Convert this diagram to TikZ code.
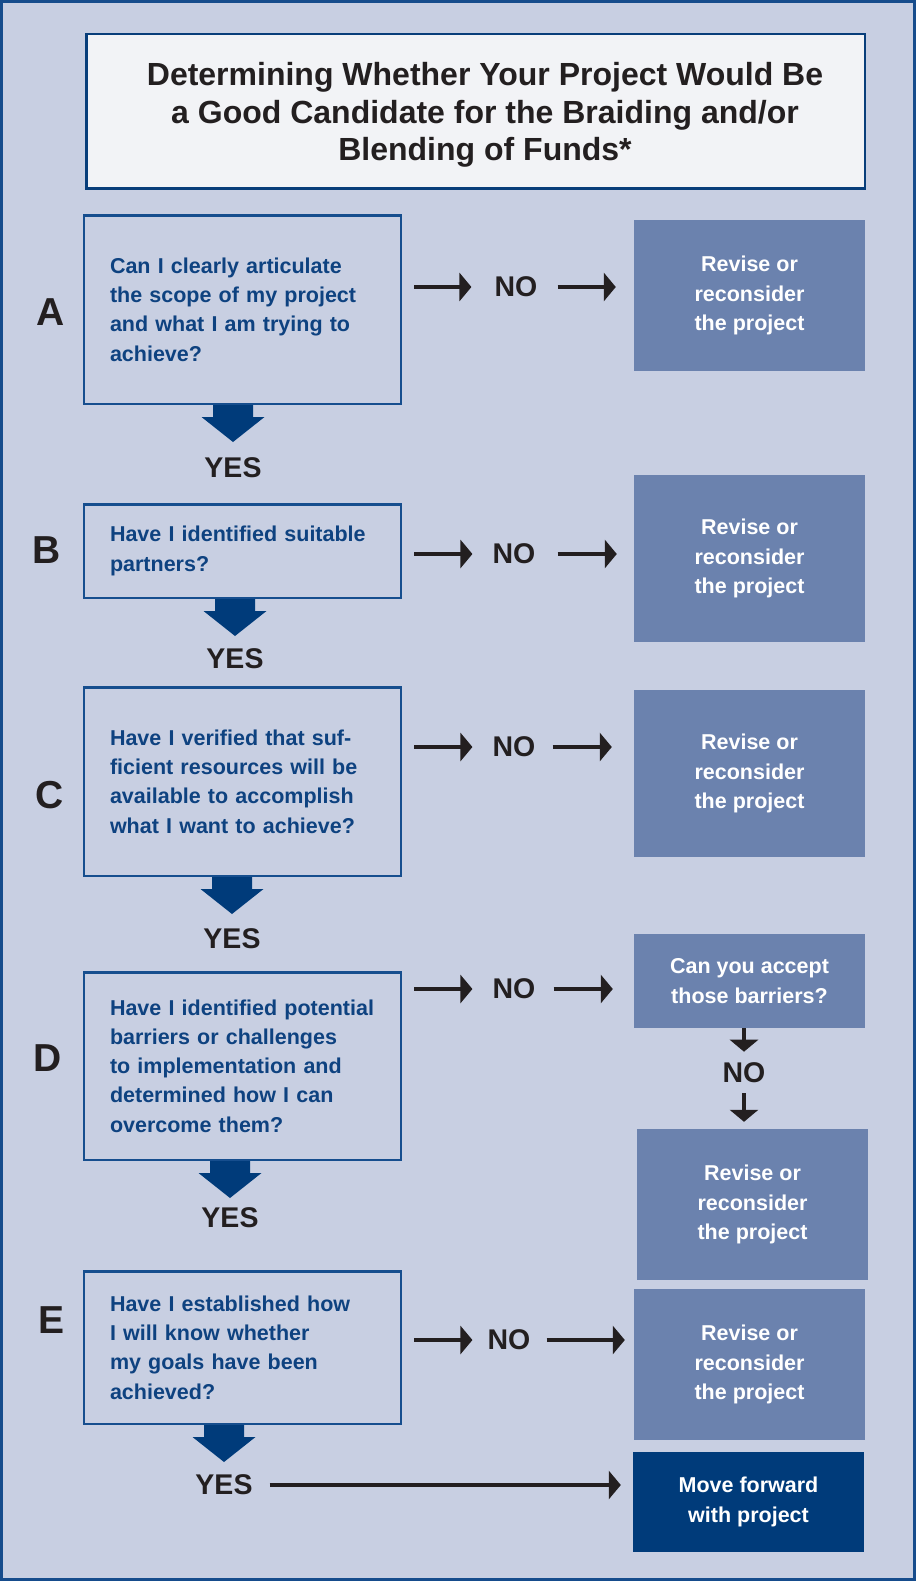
\documentclass[tikz,border=0pt]{standalone}
\usepackage{fontspec}
\setmainfont{Liberation Sans}
\usetikzlibrary{arrows.meta,calc}
\definecolor{bgc}{RGB}{200,207,226}
\definecolor{framec}{RGB}{22,76,140}
\definecolor{titlefill}{RGB}{242,243,246}
\definecolor{titleborder}{RGB}{8,62,122}
\definecolor{qborder}{RGB}{22,78,142}
\definecolor{qtext}{RGB}{14,66,128}
\definecolor{revfill}{RGB}{107,130,174}
\definecolor{navyc}{RGB}{0,59,122}
\definecolor{inkc}{RGB}{35,31,32}
\newcommand\qline[1]{\mbox{#1}}
\newcommand\fatarrow[1]{\fill[fat] ($(#1)+(-20,0)$) -- ++(0,12) -- ++(-11.5,0) -- ++(31.5,25) -- ++(31.5,-25) -- ++(-11.5,0) -- ++(0,-12) -- cycle;}
\tikzset{
 qbox/.style={draw=qborder, line width=2.5pt, text=qtext, text width=265pt, inner xsep=26pt, inner ysep=0pt, align=left, minimum width=317pt, font=\fontsize{21.5}{29.3}\selectfont\bfseries},
 rbox/.style={fill=revfill, text=white, align=center, minimum width=231pt, inner sep=0pt, font=\fontsize{21.5}{29.3}\selectfont\bfseries},
 mvbox/.style={rbox, fill=navyc},
 letter/.style={text=inkc, inner sep=0pt, font=\fontsize{39}{39}\selectfont\bfseries},
 yn/.style={text=inkc, inner sep=0pt, font=\fontsize{28.5}{28.5}\selectfont\bfseries},
 arr/.style={draw=inkc, line width=3.5pt, -{Triangle[length=12pt,width=28pt]}},
 fat/.style={fill=navyc},
}
\begin{document}
\begin{tikzpicture}[x=1pt,y=-1pt]
\fill[bgc] (0,0) rectangle (916,1581);
\useasboundingbox (0,0) rectangle (916,1581);
\draw[framec, line width=2.5pt] (1.5,1.5) rectangle (914.5,1579.5);

% title
\node[draw=titleborder, line width=2.5pt, fill=titlefill, minimum width=778.5pt, minimum height=154.5pt, inner sep=0pt] (titlebox) at (475.5,111.5) {};
\node[text=inkc, align=center, inner sep=0pt, font=\fontsize{32}{37.5}\selectfont\bfseries] (title) at (485,115) {Determining Whether Your Project Would Be\\a Good Candidate for the Braiding and/or\\Blending of Funds*};

% question boxes
\node[qbox, minimum height=188.5pt] (qA) at (242.5,309.5) {\qline{Can I clearly articulate}\\\qline{the scope of my project}\\\qline{and what I am trying to}\\\qline{achieve?}};
\node[qbox, minimum height=93.5pt] (qB) at (242.5,551) {\qline{Have I identified suitable}\\\qline{partners?}};
\node[qbox, minimum height=188.5pt] (qC) at (242.5,781.5) {\qline{Have I verified that suf-}\\\qline{ficient resources will be}\\\qline{available to accomplish}\\\qline{what I want to achieve?}};
\node[qbox, minimum height=187.5pt] (qD) at (242.5,1066) {\qline{Have I identified potential}\\\qline{barriers or challenges}\\\qline{to implementation and}\\\qline{determined how I can}\\\qline{overcome them?}};
\node[qbox, minimum height=152.5pt] (qE) at (242.5,1347.5) {\qline{Have I established how}\\\qline{I will know whether}\\\qline{my goals have been}\\\qline{achieved?}};

% letters
\node[letter] (laA) at (51,312) {A};
\node[letter] (laB) at (47,550) {B};
\node[letter] (laC) at (50,795) {C};
\node[letter] (laD) at (48,1058) {D};
\node[letter] (laE) at (52,1320) {E};

% right boxes
\node[rbox, minimum height=151pt] (rA) at (749.5,295.5) {Revise or\\reconsider\\the project};
\node[rbox, minimum height=167pt] (rB) at (749.5,558.5) {Revise or\\reconsider\\the project};
\node[rbox, minimum height=167pt] (rC) at (749.5,773.5) {Revise or\\reconsider\\the project};
\node[rbox, minimum height=94pt] (accD) at (749.5,981) {Can you accept\\those barriers?};
\node[rbox, minimum height=151pt] (rD) at (752.5,1204.5) {Revise or\\reconsider\\the project};
\node[rbox, minimum height=151pt] (rE) at (749.5,1364.5) {Revise or\\reconsider\\the project};
\node[mvbox, minimum height=100pt] (mv) at (748.5,1502) {Move forward\\with project};

% NO labels
\node[yn] (noA) at (516,287) {NO};
\node[yn] (noB) at (514,554) {NO};
\node[yn] (noC) at (514,747) {NO};
\node[yn] (noD) at (514,989) {NO};
\node[yn] (noE) at (509,1340) {NO};
\node[yn] (noDs) at (744,1073) {NO};

% YES labels
\node[yn] (yesA) at (233,468) {YES};
\node[yn] (yesB) at (235,659) {YES};
\node[yn] (yesC) at (232,939) {YES};
\node[yn] (yesD) at (230,1218) {YES};
\node[yn] (yesE) at (224,1485) {YES};

% fat down arrows
\fatarrow{qA.south -| yesA}
\fatarrow{qB.south -| yesB}
\fatarrow{qC.south -| yesC}
\fatarrow{qD.south -| yesD}
\fatarrow{qE.south -| yesE}

% horizontal NO arrows
\draw[arr, shorten <=12pt, shorten >=23pt] (qA.east |- noA) -- (noA.west);
\draw[arr, shorten <=20pt, shorten >=18pt] (noA.east) -- (noA.east -| rA.west);
\draw[arr, shorten <=12pt, shorten >=20pt] (qB.east |- noB) -- (noB.west);
\draw[arr, shorten <=22pt, shorten >=17pt] (noB.east) -- (noB.east -| rB.west);
\draw[arr, shorten <=12pt, shorten >=20pt] (qC.east |- noC) -- (noC.west);
\draw[arr, shorten <=17pt, shorten >=22pt] (noC.east) -- (noC.east -| rC.west);
\draw[arr, shorten <=12pt, shorten >=20pt] (qD.east |- noD) -- (noD.west);
\draw[arr, shorten <=18pt, shorten >=21pt] (noD.east) -- (noD.east -| accD.west);
\draw[arr, shorten <=12pt, shorten >=15pt] (qE.east |- noE) -- (noE.west);
\draw[arr, shorten <=16pt, shorten >=9pt] (noE.east) -- (noE.east -| rE.west);

% D sub arrows
\draw[arr, shorten >=11pt] (accD.south -| noDs) -- (noDs.north);
\draw[arr, shorten <=10pt, shorten >=7pt] (noDs.south) -- (noDs.south |- rD.north);

% YES to move forward
\draw[arr, shorten <=17pt, shorten >=12pt] (yesE.east) -- (yesE.east -| mv.west);
\end{tikzpicture}
\end{document}
